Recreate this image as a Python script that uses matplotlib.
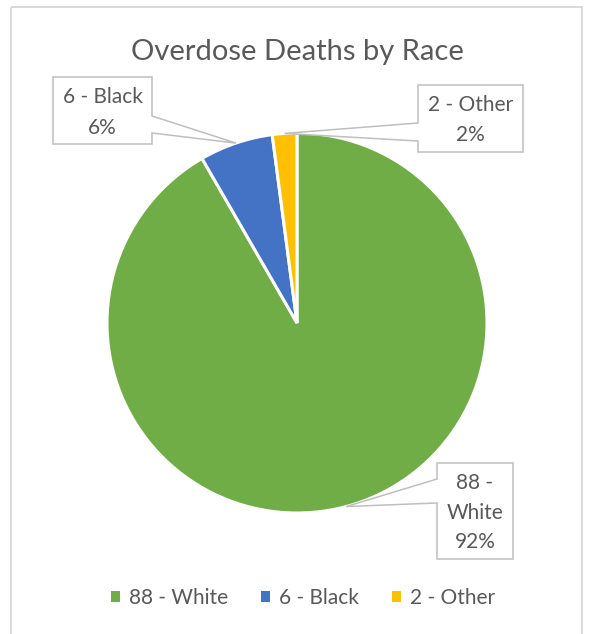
import matplotlib.pyplot as plt
from matplotlib.patches import Polygon, Rectangle
import numpy as np

# data
races = ['White', 'Black', 'Other']
deaths = [88, 6, 2]
colors = ['#70AD47', '#4472C4', '#FFC000']
title = 'Overdose Deaths by Race'

plt.rcParams['font.family'] = ['Lato', 'DejaVu Sans']
txt_col = '#595959'
line_col = '#BFBFBF'

W, H = 589, 634
fig = plt.figure(figsize=(W / 100, H / 100), dpi=100)
ax = fig.add_axes([0, 0, 1, 1])

cx, cy, R = 297, 323, 190
# y axis is inverted (pixel coords), so counterclock=True draws clockwise on screen
wedges, _ = ax.pie(deaths, colors=colors, startangle=-90, counterclock=True,
                   center=(cx, cy), radius=R,
                   wedgeprops=dict(edgecolor='white', linewidth=2.2))
ax.set_xlim(0, W)
ax.set_ylim(H, 0)
ax.set_aspect('auto')
ax.axis('off')

total = sum(deaths)
pcts = [round(100 * d / total) for d in deaths]

# callout boxes: (x0, y0, x1, y1), side, attach y range, text lines y
boxes = {
    'White': ((437, 463, 513, 559), 'left', (479, 503), [483, 513, 542]),
    'Black': ((53, 77, 152, 144), 'right', (116, 133), [97, 128]),
    'Other': ((418, 85, 523, 152), 'left', (123, 141), [105, 135]),
}
lines_of = {
    'White': ['%d -' % deaths[0], 'White', '%d%%' % pcts[0]],
    'Black': ['%d - Black' % deaths[1], '%d%%' % pcts[1]],
    'Other': ['%d - Other' % deaths[2], '%d%%' % pcts[2]],
}

for w, name in zip(wedges, races):
    mid = np.deg2rad((w.theta1 + w.theta2) / 2)
    tx = cx + R * np.cos(mid)
    ty = cy + R * np.sin(mid)
    (x0, y0, x1, y1), side, (a0, a1), ys = boxes[name]
    if side == 'left':
        pts = [(x0, y0), (x1, y0), (x1, y1), (x0, y1), (x0, a1), (tx, ty), (x0, a0)]
    else:
        pts = [(x0, y0), (x1, y0), (x1, a0), (tx, ty), (x1, a1), (x1, y1), (x0, y1)]
    ax.add_patch(Polygon(pts, closed=True, facecolor='white', edgecolor=line_col,
                         linewidth=1.1, zorder=3))
    for s, yy in zip(lines_of[name], ys):
        ax.text((x0 + x1) / 2, yy, s, ha='center', va='center', fontsize=15,
                color=txt_col, zorder=4)

ax.text(297, 52, title, ha='center', va='center', fontsize=21, color=txt_col)

# chart border
ax.add_patch(Rectangle((11, 7), 571, 640, facecolor='none', edgecolor='#D9D9D9',
                       linewidth=1.4, clip_on=False))

leg = ax.legend(wedges, ['%d - %s' % (d, r) for d, r in zip(deaths, races)],
                loc='center', bbox_to_anchor=(303 / W, 1 - 598 / H), ncol=3,
                frameon=False, fontsize=15, handlelength=0.45, handleheight=0.45,
                handletextpad=0.45, columnspacing=1.55, labelcolor=txt_col)
for h in leg.legend_handles:
    h.set_edgecolor('none')

fig.savefig('out.png', dpi=100)
